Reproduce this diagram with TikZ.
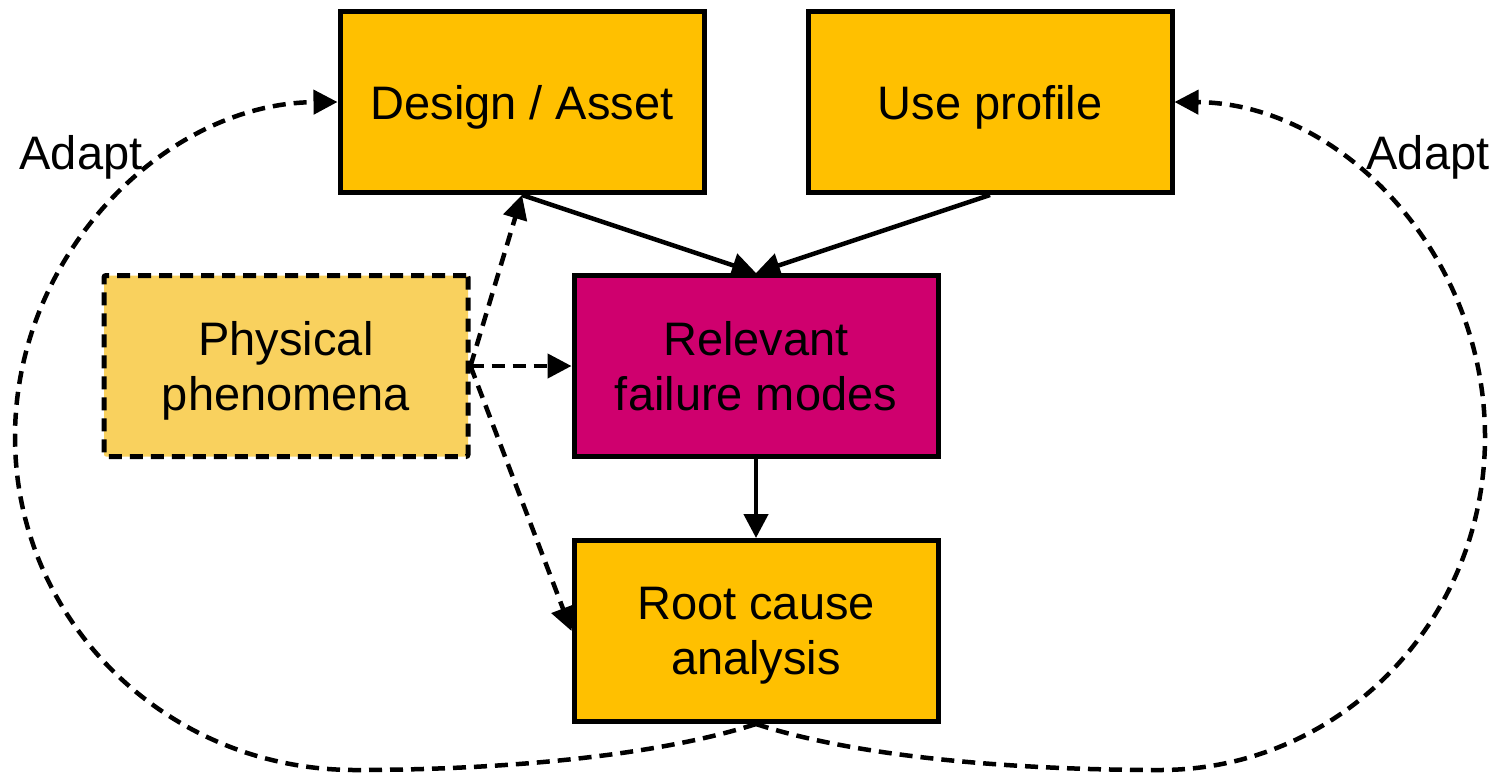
\documentclass[tikz,border=0pt]{standalone}
\usepackage{fontspec}
\setmainfont{Liberation Sans}
\usetikzlibrary{arrows.meta}
\definecolor{boxorange}{HTML}{FFC000}
\definecolor{boxmagenta}{HTML}{CF006E}
\definecolor{phenfill}{HTML}{F9D15E}
\begin{document}
\begin{tikzpicture}[x=1pt,y=-1pt,
  every node/.style={font=\fontsize{47}{55}\selectfont, align=center},
  block/.style={draw=black, line width=5pt, minimum width=364pt, minimum height=181pt,
                inner sep=0pt, text depth=0pt},
  orangebox/.style={block, fill=boxorange},
  magentabox/.style={block, fill=boxmagenta},
  phenbox/.style={block, fill=phenfill, dash pattern=on 13pt off 8pt, rounded corners=2pt},
  flow/.style={line width=4.5pt, -{Triangle[length=24pt,width=24pt]}},
  dflow/.style={flow, dash pattern=on 13pt off 8pt}
]
\useasboundingbox (0,0) rectangle (1503,772);

% boxes
\node[orangebox]  (design) at (522,102) {Design / Asset};
\node[orangebox]  (use)    at (990,102) {Use profile};
\node[phenbox]    (phen)   at (286,366) {Physical\\phenomena};
\node[magentabox] (fail)   at (756,366) {Relevant\\failure modes};
\node[orangebox]  (root)   at (756,631) {Root cause\\analysis};

% labels of the feedback loops
\node (adaptL) at (81,157) {Adapt};
\node (adaptR) at (1428,157) {Adapt};

% solid flow
\draw[flow] (design.south) -- (fail.north);
\draw[flow] (use.south) -- (fail.north);
\draw[flow] (fail.south) -- (root.north);

% influence of physical phenomena
\draw[dflow] (phen.east) -- (design.south);
\draw[dflow] (phen.east) -- (fail.west);
\draw[dflow] (phen.east) -- (root.west);

% feedback loops from root cause analysis
\draw[dflow] (root.south) .. controls (650,758) and (490,770) .. (355,770)
  .. controls (167,770) and (15,621) .. (15,437)
  .. controls (15,253) and (167,103) .. (design.west);
\draw[dflow] (root.south) .. controls (860,758) and (1020,770) .. (1160,770)
  .. controls (1340,770) and (1485,621) .. (1485,437)
  .. controls (1485,253) and (1340,103) .. (use.east);
\end{tikzpicture}
\end{document}
